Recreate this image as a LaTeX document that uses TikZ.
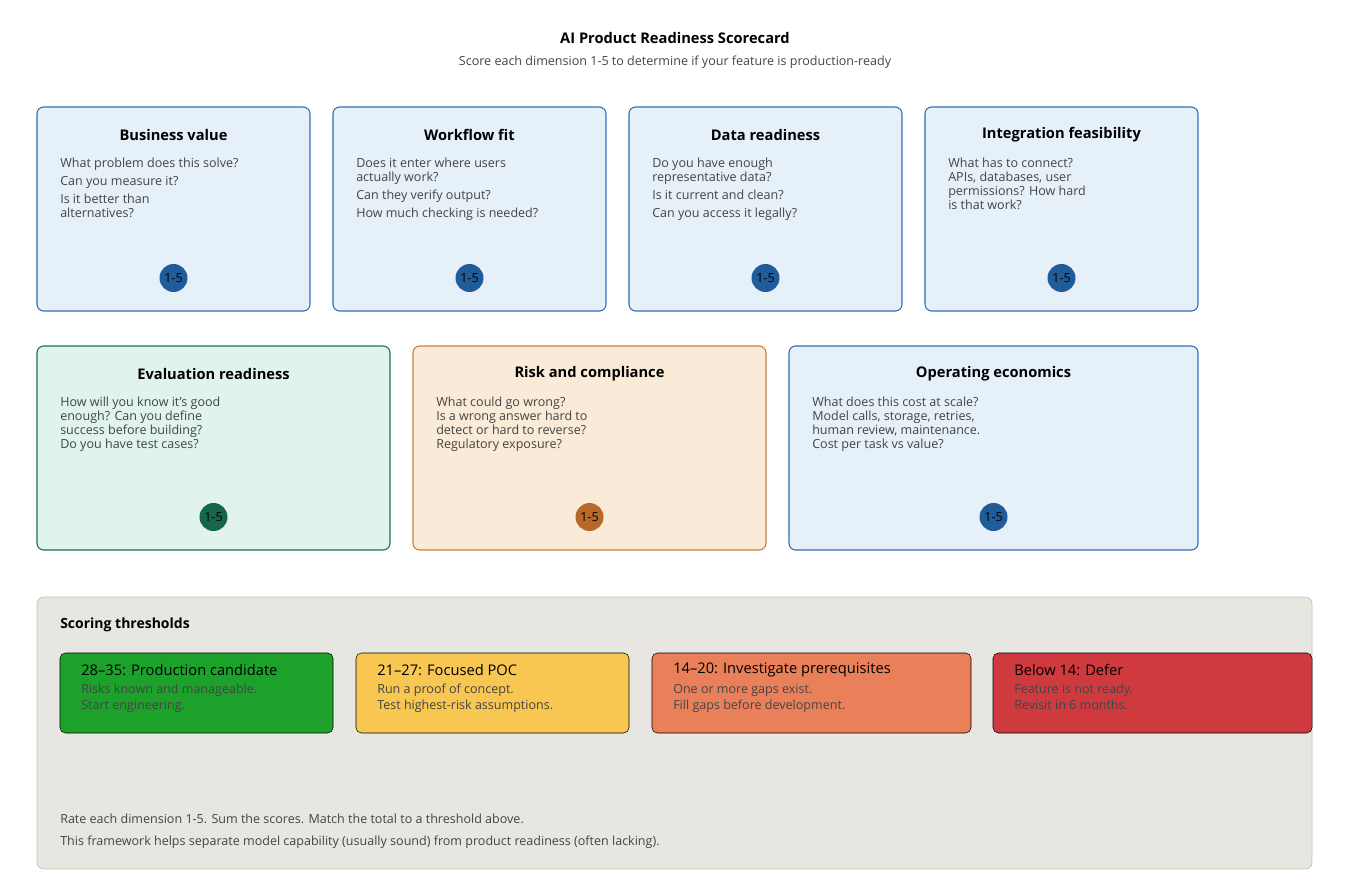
\documentclass[tikz,border=0pt]{standalone}
\usepackage{fontspec}
\setmainfont{Open Sans}
\usetikzlibrary{positioning}
\definecolor{bluefill}{HTML}{E6F0F9}
\definecolor{blueline}{HTML}{2E6DB4}
\definecolor{bluedot}{HTML}{1F5C99}
\definecolor{greenfill}{HTML}{E0F3EC}
\definecolor{greenline}{HTML}{1E7050}
\definecolor{greendot}{HTML}{16664D}
\definecolor{orangefill}{HTML}{FAEBD8}
\definecolor{orangeline}{HTML}{C87F37}
\definecolor{orangedot}{HTML}{B8692A}
\definecolor{panelfill}{HTML}{E8E6E1}
\definecolor{panelline}{HTML}{C8C6C0}
\definecolor{bodytext}{HTML}{444444}
\definecolor{tgreen}{HTML}{1CA12A}
\definecolor{tyellow}{HTML}{F8C752}
\definecolor{torange}{HTML}{EA8059}
\definecolor{tred}{HTML}{CF3A3F}
\tikzset{
  card/.style={draw=#1line, fill=#1fill, rounded corners=5pt, line width=0.8pt},
  cardtitle/.style={font=\fontsize{11}{13}\selectfont\bfseries},
  cardtext/.style={anchor=north west, align=left, inner sep=0pt, text=bodytext, font=\fontsize{9.4}{10.5}\selectfont},
  score/.style={circle, fill=#1dot, minimum size=21pt, inner sep=0pt, font=\fontsize{9.4}{11}\selectfont},
  tbox/.style={fill=#1, rounded corners=4pt},
  thead/.style={anchor=west, inner sep=0pt, font=\fontsize{11}{13}\selectfont},
  tsub/.style={anchor=north west, align=left, inner sep=0pt, text=bodytext, font=\fontsize{9.4}{12}\selectfont},
}
\newcommand{\scorecard}[8]{%
  \draw[card=#8] (#2,#4) rectangle (#3,#5);
  \node[cardtitle] (#1t) at ({(#2+#3)/2},#4+28) {#6};
  \node[cardtext] (#1b) at (#2+23,#4+51) {#7};
  \node[score=#8] (#1s) at ({(#2+#3)/2},#5-33) {1-5};
}
\newcommand{\threshold}[7]{%
  \draw[tbox=#4] (#2,653) rectangle (#3,733);
  \node[thead] (#1h) at (#2+21,670) {#5};
  \node[tsub] (#1s) at (#2+21,684) {#6\\#7};
}
\begin{document}
\begin{tikzpicture}[x=0.75pt, y=-0.75pt]
\useasboundingbox (0,0) rectangle (1348,874);

\node[font=\fontsize{11}{13}\selectfont\bfseries] (title) at (675,38) {AI Product Readiness Scorecard};
\node[font=\fontsize{9.4}{11}\selectfont, text=bodytext] (subtitle) at (675,62) {Score each dimension 1-5 to determine if your feature is production-ready};

% first row of dimensions
\scorecard{biz}{37}{310}{107}{311}{Business value}{What problem does this solve?\\[3pt]Can you measure it?\\[3pt]Is it better than\\alternatives?}{blue}
\scorecard{flow}{333}{606}{107}{311}{Workflow fit}{Does it enter where users\\actually work?\\[3pt]Can they verify output?\\[3pt]How much checking is needed?}{blue}
\scorecard{data}{629}{902}{107}{311}{Data readiness}{Do you have enough\\representative data?\\[3pt]Is it current and clean?\\[3pt]Can you access it legally?}{blue}
\scorecard{integ}{925}{1198}{107}{311}{Integration feasibility}{What has to connect?\\APIs, databases, user\\permissions? How hard\\is that work?}{blue}

% second row of dimensions
\scorecard{eval}{37}{390}{346}{550}{Evaluation readiness}{How will you know it's good\\enough? Can you define\\success before building?\\Do you have test cases?}{green}
\scorecard{risk}{413}{766}{346}{550}{Risk and compliance}{What could go wrong?\\Is a wrong answer hard to\\detect or hard to reverse?\\Regulatory exposure?}{orange}
\scorecard{econ}{789}{1198}{346}{550}{Operating economics}{What does this cost at scale?\\Model calls, storage, retries,\\human review, maintenance.\\Cost per task vs value?}{blue}

% thresholds panel
\draw[draw=panelline, fill=panelfill, rounded corners=5pt, line width=0.6pt] (37,597) rectangle (1312,869);
\node[anchor=west, inner sep=0pt, font=\fontsize{10.5}{12}\selectfont\bfseries] (scoring) at (60,625) {Scoring thresholds};
\threshold{prod}{60}{333}{tgreen}{28--35: Production candidate}{Risks known and manageable.}{Start engineering.}
\threshold{poc}{356}{629}{tyellow}{21--27: Focused POC}{Run a proof of concept.}{Test highest-risk assumptions.}
\threshold{inv}{652}{971}{torange}{14--20: Investigate prerequisites}{One or more gaps exist.}{Fill gaps before development.}
\threshold{defer}{993}{1312}{tred}{Below 14: Defer}{Feature is not ready.}{Revisit in 6 months.}
\node[anchor=west, inner sep=0pt, text=bodytext, font=\fontsize{9.4}{11}\selectfont] (note1) at (60,819) {Rate each dimension 1-5. Sum the scores. Match the total to a threshold above.};
\node[anchor=west, inner sep=0pt, text=bodytext, font=\fontsize{9.4}{11}\selectfont] (note2) at (60,842) {This framework helps separate model capability (usually sound) from product readiness (often lacking).};
\end{tikzpicture}
\end{document}
